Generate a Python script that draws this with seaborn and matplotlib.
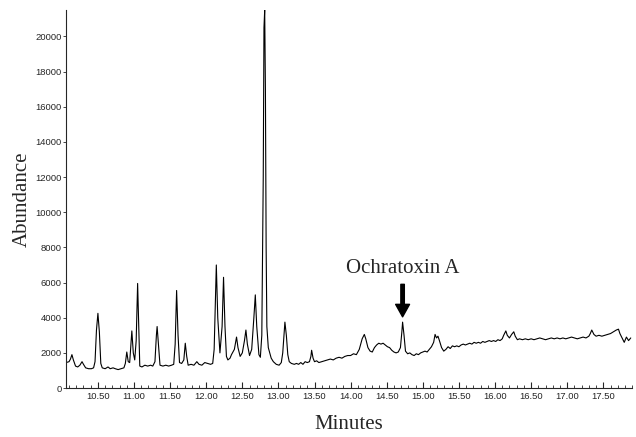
import numpy as np
import matplotlib
matplotlib.use('Agg')
import matplotlib.pyplot as plt
from matplotlib.ticker import MultipleLocator, FormatStrFormatter
import seaborn as sns

# Retention time (minutes) and abundance
minutes = [
    10.06, 10.10, 10.12, 10.14, 10.16, 10.19, 10.22, 10.25, 10.28, 10.30,
    10.33, 10.37, 10.41, 10.44, 10.46, 10.48, 10.50, 10.52, 10.54, 10.56,
    10.60, 10.64, 10.67, 10.71, 10.74, 10.78, 10.82, 10.86, 10.88, 10.90,
    10.92, 10.94, 10.96, 10.97, 10.99, 11.01, 11.03, 11.05, 11.07, 11.08,
    11.11, 11.15, 11.19, 11.23, 11.26, 11.29, 11.31, 11.32, 11.34, 11.36,
    11.40, 11.44, 11.48, 11.52, 11.55, 11.57, 11.59, 11.61, 11.63, 11.66,
    11.69, 11.71, 11.73, 11.75, 11.79, 11.83, 11.87, 11.90, 11.94, 11.98,
    12.02, 12.06, 12.09, 12.11, 12.13, 12.14, 12.16, 12.19, 12.22, 12.24,
    12.26, 12.28, 12.30, 12.33, 12.35, 12.39, 12.42, 12.44, 12.47, 12.50,
    12.53, 12.55, 12.57, 12.60, 12.63, 12.66, 12.68, 12.70, 12.73, 12.75,
    12.77, 12.79, 12.80, 12.81, 12.82, 12.83, 12.84, 12.86, 12.90, 12.93,
    12.97, 13.01, 13.04, 13.06, 13.08, 13.09, 13.11, 13.13, 13.15, 13.18,
    13.22, 13.25, 13.28, 13.31, 13.34, 13.37, 13.40, 13.43, 13.45, 13.46,
    13.48, 13.50, 13.53, 13.56, 13.60, 13.64, 13.68, 13.72, 13.76, 13.80,
    13.84, 13.88, 13.92, 13.96, 14.00, 14.04, 14.08, 14.12, 14.16, 14.19,
    14.21, 14.24, 14.27, 14.30, 14.33, 14.36, 14.39, 14.42, 14.45, 14.48,
    14.51, 14.54, 14.57, 14.60, 14.63, 14.66, 14.69, 14.71, 14.72, 14.74,
    14.76, 14.79, 14.82, 14.85, 14.88, 14.91, 14.94, 14.97, 15.00, 15.03,
    15.06, 15.09, 15.12, 15.15, 15.17, 15.19, 15.21, 15.23, 15.26, 15.29,
    15.32, 15.35, 15.38, 15.41, 15.44, 15.47, 15.50, 15.53, 15.56, 15.59,
    15.62, 15.65, 15.68, 15.71, 15.74, 15.77, 15.80, 15.83, 15.86, 15.89,
    15.92, 15.95, 15.98, 16.01, 16.04, 16.07, 16.10, 16.12, 16.15, 16.17,
    16.20, 16.23, 16.26, 16.28, 16.31, 16.34, 16.38, 16.42, 16.46, 16.50,
    16.54, 16.58, 16.62, 16.66, 16.70, 16.74, 16.78, 16.82, 16.86, 16.90,
    16.94, 16.98, 17.02, 17.06, 17.10, 17.14, 17.18, 17.22, 17.26, 17.30,
    17.32, 17.34, 17.37, 17.40, 17.44, 17.48, 17.52, 17.56, 17.60, 17.64,
    17.68, 17.71, 17.73, 17.76, 17.79, 17.82, 17.85, 17.88,
]
abundance = [
    1450, 1500, 1650, 1900, 1600, 1250, 1200, 1300, 1500, 1350,
    1150, 1100, 1100, 1150, 1500, 3300, 4250, 3200, 1400, 1150,
    1100, 1200, 1100, 1150, 1100, 1050, 1100, 1150, 1400, 2050,
    1500, 1450, 2700, 3250, 2000, 1600, 2700, 5950, 2800, 1250,
    1200, 1300, 1250, 1300, 1250, 1500, 3000, 3500, 2400, 1300,
    1250, 1300, 1250, 1300, 1350, 2500, 5550, 3000, 1450, 1400,
    1600, 2550, 1800, 1300, 1350, 1300, 1500, 1350, 1300, 1450,
    1400, 1350, 1400, 2200, 5500, 7000, 4000, 2000, 3500, 6300,
    3500, 1800, 1600, 1700, 1900, 2200, 2900, 2300, 1800, 2000,
    2700, 3300, 2500, 1850, 2200, 4000, 5300, 3500, 1900, 1750,
    3000, 12000, 20500, 21500, 17000, 8000, 3500, 2300, 1700, 1500,
    1350, 1300, 1450, 2000, 3200, 3750, 3000, 1900, 1500, 1400,
    1350, 1400, 1350, 1450, 1350, 1500, 1450, 1500, 1800, 2150,
    1700, 1500, 1550, 1450, 1500, 1550, 1600, 1650, 1600, 1700,
    1750, 1700, 1800, 1850, 1850, 1950, 1900, 2200, 2800, 3050,
    2800, 2300, 2100, 2050, 2300, 2450, 2550, 2500, 2550, 2450,
    2350, 2300, 2150, 2050, 2000, 2050, 2300, 3200, 3750, 3000,
    2100, 1950, 2000, 1900, 1850, 1950, 1900, 2000, 2050, 2100,
    2050, 2200, 2350, 2600, 3050, 2850, 2950, 2700, 2300, 2100,
    2200, 2350, 2250, 2400, 2350, 2400, 2350, 2450, 2500, 2450,
    2500, 2550, 2500, 2600, 2550, 2600, 2550, 2650, 2600, 2650,
    2700, 2650, 2700, 2650, 2750, 2700, 2800, 3000, 3250, 3000,
    2850, 3050, 3200, 2950, 2750, 2800, 2750, 2800, 2750, 2800,
    2750, 2800, 2850, 2800, 2750, 2800, 2850, 2800, 2850, 2800,
    2850, 2800, 2850, 2900, 2850, 2800, 2850, 2900, 2850, 2950,
    3100, 3300, 3050, 2950, 3000, 2950, 3000, 3050, 3100, 3200,
    3300, 3350, 3100, 2850, 2600, 2900, 2700, 2850,
]

x_ticks = [10.5, 11.0, 11.5, 12.0, 12.5, 13.0, 13.5, 14.0, 14.5, 15.0,
           15.5, 16.0, 16.5, 17.0, 17.5]
y_ticks = list(range(0, 20001, 2000))

ota_time = 14.72
ota_label = 'Ochratoxin A'

sns.set_style('ticks')
plt.rcParams['font.family'] = ['Liberation Sans', 'DejaVu Sans']

fig = plt.figure(figsize=(6.36, 4.37), dpi=100)
ax = fig.add_axes([0.104, 0.112, 0.89, 0.865])

sns.lineplot(x=minutes, y=abundance, color='black', linewidth=0.8,
             estimator=None, sort=False, ax=ax)

ax.set_xlim(10.06, 17.9)
ax.set_ylim(0, 21500)
ax.set_xticks(x_ticks)
ax.xaxis.set_major_formatter(FormatStrFormatter('%.2f'))
ax.xaxis.set_minor_locator(MultipleLocator(0.1))
ax.set_yticks(y_ticks)
ax.tick_params(axis='x', which='major', direction='in', length=4, width=0.8,
               labelsize=6.8, pad=3)
ax.tick_params(axis='x', which='minor', direction='in', length=2, width=0.6)
ax.tick_params(axis='y', direction='out', length=2, width=0.6, labelsize=6.8,
               pad=1)
for s in ['top', 'right']:
    ax.spines[s].set_visible(False)
ax.spines['left'].set_linewidth(0.8)
ax.spines['bottom'].set_linewidth(0.8)

serif = ['Liberation Serif', 'DejaVu Serif']
ax.set_xlabel('Minutes', family=serif, fontsize=15, labelpad=10)
ax.set_ylabel('Abundance', family=serif, fontsize=15, labelpad=3)

ax.annotate('', xy=(ota_time, 4050), xytext=(ota_time, 5900),
            arrowprops=dict(facecolor='black', edgecolor='black', width=2.5,
                            headwidth=10, headlength=9, shrink=0))
ax.text(ota_time, 6800, ota_label, family=serif, fontsize=15,
        ha='center', va='center')

fig.savefig('out.png', dpi=100)
